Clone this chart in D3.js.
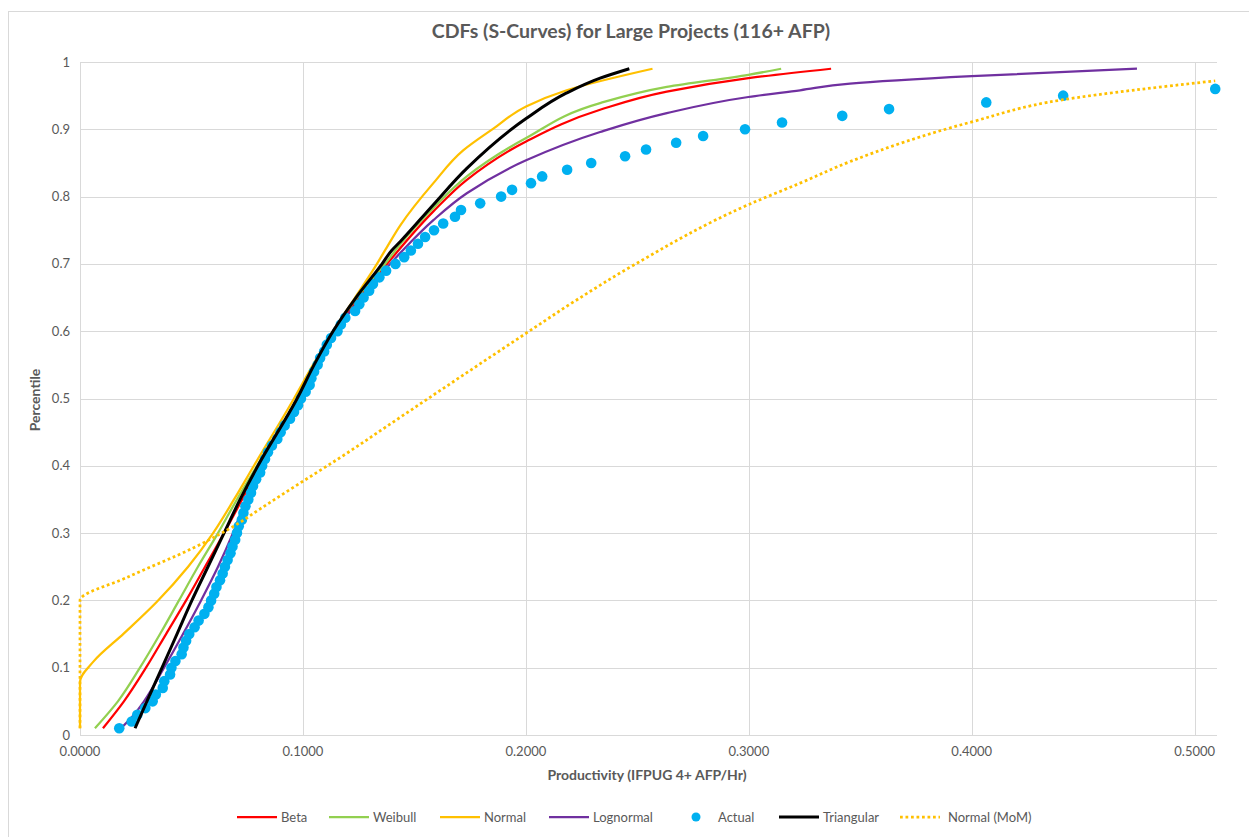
<!DOCTYPE html>
<html>
<head>
<meta charset="utf-8">
<script src="https://cdn.jsdelivr.net/npm/d3@7"></script>
<style>
  body { margin: 0; background: #fff; }
  svg text { font-family: Lato, "Open Sans", sans-serif; fill: #595959; }
</style>
</head>
<body>
<svg id="chart" width="1249" height="837"></svg>
<script>
// percentiles for the actual data (0.01 .. 0.96)
const actualP = [0.01,0.02,0.03,0.04,0.05,0.06,0.07,0.08,0.09,0.10,
  0.11,0.12,0.13,0.14,0.15,0.16,0.17,0.18,0.19,0.20,
  0.21,0.22,0.23,0.24,0.25,0.26,0.27,0.28,0.29,0.30,
  0.31,0.32,0.33,0.34,0.35,0.36,0.37,0.38,0.39,0.40,
  0.41,0.42,0.43,0.44,0.45,0.46,0.47,0.48,0.49,0.50,
  0.51,0.52,0.53,0.54,0.55,0.56,0.57,0.58,0.59,0.60,
  0.61,0.62,0.63,0.64,0.65,0.66,0.67,0.68,0.69,0.70,
  0.71,0.72,0.73,0.74,0.75,0.76,0.77,0.78,0.79,0.80,
  0.81,0.82,0.83,0.84,0.85,0.86,0.87,0.88,0.89,0.90,
  0.91,0.92,0.93,0.94,0.95,0.96];
const actualX = [0.0176,0.0232,0.0257,0.0293,0.0326,0.0340,0.0371,0.0378,0.0404,0.0410,
  0.0428,0.0456,0.0464,0.0476,0.0490,0.0514,0.0532,0.0558,0.0576,0.0588,
  0.0602,0.0612,0.0628,0.0640,0.0650,0.0662,0.0675,0.0684,0.0696,0.0704,
  0.0712,0.0726,0.0733,0.0742,0.0755,0.0767,0.0776,0.0790,0.0808,0.0817,
  0.0830,0.0843,0.0861,0.0885,0.0900,0.0918,0.0942,0.0960,0.0978,0.0991,
  0.1012,0.1030,0.1038,0.1050,0.1066,0.1077,0.1095,0.1107,0.1126,0.1155,
  0.1170,0.1190,0.1234,0.1253,0.1272,0.1297,0.1314,0.1343,0.1373,0.1415,
  0.1454,0.1484,0.1516,0.1548,0.1588,0.1629,0.1682,0.1709,0.1795,0.1889,
  0.1938,0.2023,0.2073,0.2185,0.2293,0.2445,0.2539,0.2674,0.2795,0.2983,
  0.3149,0.3419,0.3629,0.4065,0.4410,0.5092];

// fitted curves: [productivity, percentile]
const betaPts = [[0.0103,0.01],[0.0197,0.05],[0.0296,0.10],[0.0386,0.15],[0.0476,0.20],
  [0.0561,0.25],[0.0646,0.30],[0.0727,0.35],[0.0803,0.40],[0.0978,0.50],[0.1054,0.55],
  [0.1140,0.60],[0.1252,0.65],[0.1377,0.70],[0.1585,0.778],[0.1735,0.825],[0.2001,0.882],
  [0.2333,0.929],[0.2632,0.956],[0.2998,0.976],[0.3369,0.99]];
const weibullPts = [[0.0067,0.01],[0.0170,0.05],[0.0269,0.10],[0.0359,0.15],[0.0444,0.20],
  [0.0529,0.25],[0.0619,0.30],[0.0704,0.35],[0.0794,0.40],[0.0974,0.50],[0.1050,0.55],
  [0.1135,0.60],[0.1243,0.65],[0.1368,0.70],[0.1436,0.729],[0.1585,0.783],[0.1735,0.830],
  [0.2001,0.887],[0.2333,0.939],[0.2632,0.963],[0.2998,0.981],[0.3145,0.99]];
const normalPts = [[0,0.01],[0,0.079],[0.0060,0.109],[0.0197,0.151],[0.0345,0.198],
  [0.0485,0.25],[0.0597,0.30],[0.0691,0.35],[0.0780,0.40],[0.0960,0.50],[0.1045,0.55],
  [0.1135,0.60],[0.1234,0.65],[0.1332,0.70],[0.1368,0.72],[0.1436,0.757],[0.1585,0.82],
  [0.1720,0.869],[0.1854,0.901],[0.2001,0.934],[0.2183,0.958],[0.2568,0.99]];
const lognormalPts = [[0.0184,0.01],[0.0242,0.03],[0.0287,0.05],[0.0377,0.10],[0.0462,0.15],
  [0.0543,0.20],[0.0619,0.25],[0.0686,0.30],[0.0745,0.35],[0.0812,0.40],[0.0983,0.50],
  [0.1063,0.55],[0.1149,0.60],[0.1261,0.65],[0.1391,0.70],[0.1436,0.716],[0.1585,0.765],
  [0.1735,0.805],[0.2001,0.854],[0.2333,0.896],[0.2632,0.924],[0.2998,0.948],[0.3230,0.958],
  [0.3454,0.968],[0.4000,0.979],[0.4741,0.99]];
const triangularPts = [[0.0247,0.01],[0.0300,0.05],[0.0368,0.10],[0.0435,0.15],[0.0502,0.20],
  [0.0574,0.25],[0.0646,0.30],[0.0718,0.35],[0.0798,0.40],[0.0974,0.50],[0.1050,0.55],
  [0.1135,0.60],[0.1238,0.65],[0.1355,0.70],[0.1398,0.72],[0.1436,0.733],[0.1585,0.788],
  [0.1735,0.842],[0.2001,0.916],[0.2183,0.954],[0.2333,0.976],[0.2464,0.99]];
const normalMomPts = [[0,0.01],[0,0.2],[0.0210,0.234],[0.0508,0.278],[0.0718,0.316],
  [0.0808,0.336],[0.1000,0.377],[0.1166,0.412],[0.1436,0.472],[0.1652,0.52],[0.1992,0.595],
  [0.2221,0.645],[0.2482,0.698],[0.2998,0.788],[0.3230,0.820],[0.3454,0.852],[0.4000,0.911],
  [0.4410,0.944],[0.5092,0.972]];

const xTicks = [0, 0.1, 0.2, 0.3, 0.4, 0.5];
const yTicks = [0, 0.1, 0.2, 0.3, 0.4, 0.5, 0.6, 0.7, 0.8, 0.9, 1];

const series = [
  { name: "Beta", pts: betaPts, color: "#FF0000", width: 2.25 },
  { name: "Weibull", pts: weibullPts, color: "#92D050", width: 2.25 },
  { name: "Normal", pts: normalPts, color: "#FFC000", width: 2.25 },
  { name: "Lognormal", pts: lognormalPts, color: "#7030A0", width: 2.25 },
  { name: "Actual", dots: true, color: "#00B0F0" },
  { name: "Triangular", pts: triangularPts, color: "#000000", width: 3 },
  { name: "Normal (MoM)", pts: normalMomPts, color: "#FFC000", width: 2.75, dash: "2.75 2.75" }
];

const svg = d3.select("#chart");
const plot = { left: 80, right: 1217, top: 62, bottom: 735 };

const x = d3.scaleLinear().domain([0, 0.51]).range([plot.left, plot.right]);
const y = d3.scaleLinear().domain([0, 1]).range([plot.bottom, plot.top]);

// outer chart border
svg.append("rect")
  .attr("x", 8.5).attr("y", 11.5)
  .attr("width", 1260).attr("height", 840)
  .attr("fill", "none").attr("stroke", "#D9D9D9");

// title
svg.append("text")
  .attr("x", 631).attr("y", 38)
  .attr("text-anchor", "middle")
  .style("font-size", "19.5px").style("font-weight", "bold")
  .text("CDFs (S-Curves) for Large Projects (116+ AFP)");

// gridlines
svg.append("g")
  .selectAll("line")
  .data(yTicks)
  .join("line")
  .attr("x1", plot.left).attr("x2", plot.right)
  .attr("y1", d => Math.round(y(d)) + 0.5).attr("y2", d => Math.round(y(d)) + 0.5)
  .attr("stroke", "#D9D9D9");

svg.append("g")
  .selectAll("line")
  .data(xTicks)
  .join("line")
  .attr("x1", d => Math.round(x(d)) + 0.5).attr("x2", d => Math.round(x(d)) + 0.5)
  .attr("y1", plot.top).attr("y2", plot.bottom)
  .attr("stroke", "#D9D9D9");

// tick labels
svg.append("g")
  .selectAll("text")
  .data(yTicks)
  .join("text")
  .attr("x", 70).attr("y", d => y(d) + 4.5)
  .attr("text-anchor", "end")
  .style("font-size", "13px")
  .text(d => d3.format(".1~f")(d));

svg.append("g")
  .selectAll("text")
  .data(xTicks)
  .join("text")
  .attr("x", d => x(d)).attr("y", 756)
  .attr("text-anchor", "middle")
  .style("font-size", "13px")
  .text(d => d3.format(".4f")(d));

// axis titles
svg.append("text")
  .attr("transform", "translate(40, 400) rotate(-90)")
  .attr("text-anchor", "middle")
  .style("font-size", "14px").style("font-weight", "bold")
  .text("Percentile");

svg.append("text")
  .attr("x", 647).attr("y", 780)
  .attr("text-anchor", "middle")
  .style("font-size", "14px").style("font-weight", "bold")
  .text("Productivity (IFPUG 4+ AFP/Hr)");

// clip for the plot area
svg.append("clipPath").attr("id", "plotClip")
  .append("rect")
  .attr("x", plot.left - 2).attr("y", plot.top - 6)
  .attr("width", plot.right - plot.left + 8).attr("height", plot.bottom - plot.top + 8);

const g = svg.append("g").attr("clip-path", "url(#plotClip)");

const line = d3.line()
  .x(d => x(d[0]))
  .y(d => y(d[1]))
  .curve(d3.curveMonotoneY);

series.forEach(s => {
  if (s.dots) {
    g.append("g")
      .selectAll("circle")
      .data(actualX.map((v, i) => [v, actualP[i]]))
      .join("circle")
      .attr("cx", d => x(d[0]))
      .attr("cy", d => y(d[1]))
      .attr("r", 5.3)
      .attr("fill", s.color);
  } else {
    g.append("path")
      .datum(s.pts)
      .attr("d", line)
      .attr("fill", "none")
      .attr("stroke", s.color)
      .attr("stroke-width", s.width)
      .attr("stroke-dasharray", s.dash || null)
      .attr("stroke-linejoin", "round");
  }
});

// legend
const legendX = [237, 329, 440, 549, 696, 779, 900];
const legend = svg.append("g")
  .selectAll("g")
  .data(series)
  .join("g")
  .attr("transform", (d, i) => `translate(${legendX[i]}, 817)`);

legend.each(function (d) {
  const item = d3.select(this);
  if (d.dots) {
    item.append("circle").attr("cx", 0).attr("cy", 0).attr("r", 4.5).attr("fill", d.color);
    item.append("text").attr("x", 22).attr("y", 4.5)
      .style("font-size", "13px").text(d.name);
  } else {
    item.append("line")
      .attr("x1", 0).attr("x2", 40).attr("y1", 0).attr("y2", 0)
      .attr("stroke", d.color)
      .attr("stroke-width", d.width)
      .attr("stroke-dasharray", d.dash || null);
    item.append("text").attr("x", d.dash ? 48 : 44).attr("y", 4.5)
      .style("font-size", "13px").text(d.name);
  }
});
</script>
</body>
</html>
